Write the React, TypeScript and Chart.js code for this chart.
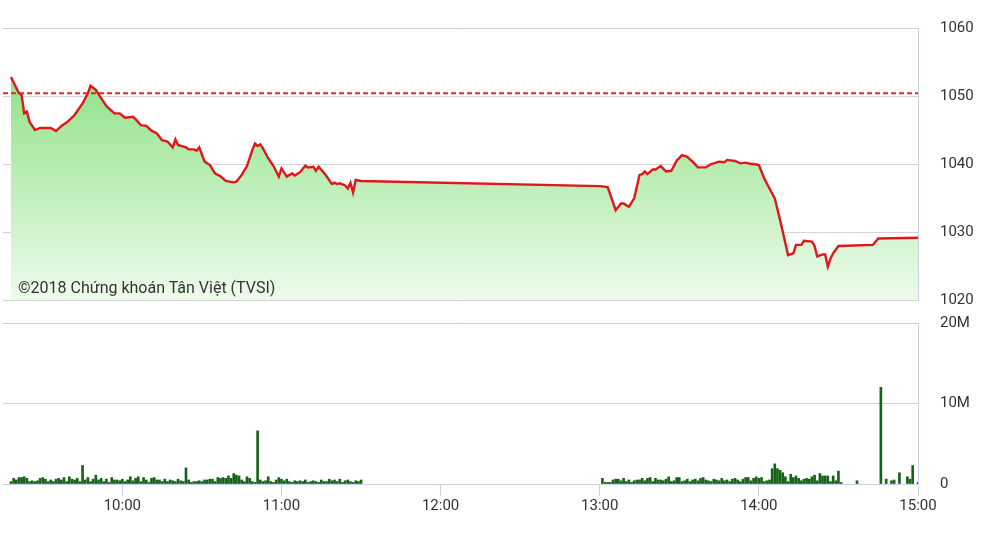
import React, { useEffect, useRef } from "react";
import { Chart, registerables } from "chart.js";

Chart.register(...registerables);

// ---- Data ----
const priceTimes = [
  "09:18", "09:21", "09:22", "09:23", "09:24", "09:25", "09:27", "09:29", "09:33", "09:35",
  "09:37", "09:39", "09:42", "09:45", "09:47", "09:48", "09:50", "09:52", "09:54", "09:57",
  "09:59", "10:01", "10:04", "10:05", "10:07", "10:09", "10:11", "10:13", "10:15", "10:17",
  "10:19", "10:20", "10:21", "10:24", "10:25", "10:27", "10:28", "10:29", "10:31", "10:33",
  "10:35", "10:37", "10:39", "10:42", "10:43", "10:45", "10:47", "10:49", "10:50", "10:51",
  "10:52", "10:53", "10:55", "10:57", "10:58", "10:59", "11:00", "11:02", "11:04", "11:05",
  "11:07", "11:09", "11:10", "11:12", "11:13", "11:14", "11:16", "11:17", "11:19", "11:20",
  "11:21", "11:22", "11:24", "11:25", "11:26", "11:27", "11:28", "11:30",
  "13:00", "13:03", "13:06", "13:08", "13:09", "13:11", "13:13", "13:15", "13:16", "13:17",
  "13:18", "13:20", "13:21", "13:23", "13:25", "13:27", "13:29", "13:31", "13:33", "13:35",
  "13:37", "13:40", "13:42", "13:43", "13:45", "13:47", "13:48", "13:51", "13:53", "13:55",
  "13:57", "13:58", "14:00", "14:02", "14:04", "14:06", "14:08", "14:10", "14:11", "14:13",
  "14:14", "14:16", "14:17", "14:20", "14:21", "14:22", "14:24", "14:25", "14:26", "14:27",
  "14:28", "14:30", "14:43", "14:45", "15:00",
];
const priceValues = [
  1052.8, 1050.4, 1050.15, 1047.45, 1047.7, 1046.2, 1045.0, 1045.3, 1045.3, 1044.85,
  1045.6, 1046.1, 1047.2, 1048.9, 1050.4, 1051.5, 1050.9, 1049.7, 1048.5, 1047.45,
  1047.45, 1046.8, 1046.95, 1046.6, 1045.7, 1045.6, 1044.9, 1044.5, 1043.5, 1043.3,
  1042.45, 1043.6, 1042.8, 1042.45, 1042.15, 1042.15, 1041.95, 1042.45, 1040.35, 1039.85,
  1038.6, 1038.2, 1037.5, 1037.3, 1037.4, 1038.4, 1039.7, 1042.05, 1043.0, 1042.65,
  1042.9, 1042.3, 1040.85, 1039.7, 1038.9, 1038.15, 1039.35, 1038.15, 1038.6, 1038.3,
  1038.8, 1039.75, 1039.5, 1039.6, 1039.0, 1039.6, 1038.7, 1038.2, 1037.05, 1037.25,
  1037.05, 1037.15, 1036.85, 1036.4, 1037.25, 1035.8, 1037.65, 1037.5,
  1036.75, 1036.6, 1033.2, 1034.2, 1034.2, 1033.7, 1034.95, 1038.4, 1038.5, 1038.9,
  1038.5, 1039.2, 1039.2, 1039.7, 1038.9, 1039.0, 1040.5, 1041.3, 1041.05, 1040.35,
  1039.5, 1039.5, 1040.0, 1040.1, 1040.35, 1040.25, 1040.6, 1040.45, 1040.1, 1040.2,
  1040.0, 1040.0, 1039.85, 1037.9, 1036.4, 1034.95, 1031.75, 1028.35, 1026.6, 1026.85,
  1028.1, 1028.1, 1028.7, 1028.6, 1027.95, 1026.4, 1026.7, 1026.7, 1024.9, 1026.1,
  1026.85, 1027.95, 1028.1, 1029.05, 1029.15,
];
const referenceLevel = 1050.4;

// Volume per minute (millions of shares)
const morningVolumeStart = "09:18";
const morningVolume = [
  0.3, 0.7, 0.5, 0.8, 0.8, 0.9, 0.7, 0.3, 0.4, 0.3,
  0.4, 0.7, 0.8, 0.6, 0.3, 0.5, 0.3, 0.6, 0.7, 0.5,
  0.8, 0.3, 0.9, 0.6, 0.5, 0.7, 0.3, 2.3, 0.5, 0.8,
  0.3, 0.6, 1.1, 0.5, 0.7, 0.3, 0.6, 0.2, 0.8, 0.5,
  0.5, 0.4, 0.6, 0.3, 0.5, 0.9, 0.4, 0.7, 0.9, 0.3,
  0.8, 0.5, 0.2, 0.7, 0.8, 0.5, 0.5, 0.3, 0.6, 0.3,
  0.5, 0.4, 0.3, 0.6, 0.4, 0.3, 2.0, 0.5, 0.2, 0.3,
  0.3, 0.4, 0.3, 0.5, 0.5, 0.6, 0.6, 0.3, 0.8, 0.7,
  0.8, 0.7, 1.0, 0.7, 1.3, 1.1, 1.0, 0.5, 0.3, 0.9,
  0.7, 0.3, 0.2, 6.6, 0.5, 0.3, 0.4, 0.9, 0.3, 0.2,
  0.5, 0.8, 0.6, 0.4, 0.6, 0.3, 0.2, 0.4, 0.3, 0.4,
  0.3, 0.5, 0.2, 0.3, 0.4, 0.3, 0.2, 0.5, 0.3, 0.3,
  0.6, 0.4, 0.5, 0.3, 0.6, 0.2, 0.4, 0.5, 0.3, 0.2,
  0.4, 0.3, 0.5,
];
const afternoonVolumeStart = "13:00";
const afternoonVolume = [
  0, 0.7, 0.2, 0.2, 0.2, 0.5, 0.6, 0.6, 0.4, 0.7,
  0.3, 0.5, 0.2, 0.4, 0.5, 0.5, 0.7, 0.4, 0.7, 0.8,
  0.3, 0.7, 0.5, 0.5, 0.4, 0.6, 0.9, 0.3, 0.4, 0.8,
  0.8, 0.3, 0.4, 0.6, 0.3, 0.5, 0.6, 0.4, 0.7, 0.8,
  0.5, 0.4, 0.3, 0.6, 0.5, 0.4, 0.7, 0.4, 0.5, 0.3,
  0.6, 0.7, 0.5, 0.3, 0.6, 0.8, 0.8, 0.4, 0.7, 0.9,
  0.7, 0.8, 0.3, 0.4, 0.5, 1.9, 2.5, 1.9, 1.7, 1.4,
  0.9, 0.3, 1.2, 0.8, 1.0, 0.7, 0.4, 0.6, 0.7, 0.6,
  0.9, 1.1, 0.4, 1.3, 1.0, 1.0, 1.0, 0.3, 1.0, 0.4,
  1.6, 0.2, 0, 0, 0, 0, 0, 0.4, 0, 0,
  0, 0, 0, 0, 0, 0, 12.0, 0, 0.6, 0,
  0.4, 0.5, 0, 1.4, 0, 0, 0.9, 0.6, 2.3, 0,
  0.2,
];

const axisTimes = ["10:00", "11:00", "12:00", "13:00", "14:00", "15:00"];
const sessionStart = "09:15";
const sessionEnd = "15:00";
const priceTicks = [1020, 1030, 1040, 1050, 1060];
const volumeTicks = [0, 10, 20];
const watermark = "©2018 Chứng khoán Tân Việt (TVSI)";

// ---- helpers ----
const toMin = (s: string) => {
  const [h, m] = s.split(":").map(Number);
  return h * 60 + m;
};
const fmtMin = (v: number) => {
  const h = Math.floor(v / 60);
  const m = Math.round(v - h * 60);
  return `${h < 10 ? "0" + h : h}:${m < 10 ? "0" + m : m}`;
};

const FONT = { family: "Roboto, 'Liberation Sans', Arial, sans-serif", size: 15 };
const TEXT = "#333333";
const GRID = "#d4d4d4";
const FRAME = "#c9d2e3";
const CLEAR = "rgba(0,0,0,0)";

export default function App() {
  const topRef = useRef<HTMLCanvasElement | null>(null);
  const botRef = useRef<HTMLCanvasElement | null>(null);

  useEffect(() => {
    const xMin = toMin(sessionStart);
    const xMax = toMin(sessionEnd);
    const hourTicks = axisTimes.map((t) => toMin(t));

    const pricePts = priceTimes.map((t, i) => ({ x: toMin(t), y: priceValues[i] }));
    const volPts: { x: number; y: number }[] = [];
    morningVolume.forEach((v, i) => {
      if (v > 0) volPts.push({ x: toMin(morningVolumeStart) + i, y: v });
    });
    afternoonVolume.forEach((v, i) => {
      if (v > 0) volPts.push({ x: toMin(afternoonVolumeStart) + i, y: v });
    });

    const top = new Chart(topRef.current as HTMLCanvasElement, {
      type: "line",
      data: {
        datasets: [
          {
            data: [
              { x: xMin, y: referenceLevel },
              { x: xMax, y: referenceLevel },
            ],
            borderColor: "#e8262c",
            borderWidth: 2,
            borderDash: [5, 3],
            pointRadius: 0,
            fill: false,
            order: 0,
          },
          {
            data: pricePts,
            borderColor: "#e0161c",
            borderWidth: 2.4,
            pointRadius: 0,
            tension: 0,
            fill: "start",
            order: 1,
            backgroundColor: (ctx: any) => {
              const ca = ctx.chart.chartArea;
              if (!ca) return "rgba(150,225,140,0.6)";
              const g = ctx.chart.ctx.createLinearGradient(0, ca.top, 0, ca.bottom);
              g.addColorStop(0, "rgb(124,221,114)");
              g.addColorStop(1, "rgb(238,251,236)");
              return g;
            },
          },
        ],
      },
      options: {
        animation: false,
        responsive: true,
        maintainAspectRatio: false,
        layout: { padding: { left: 3, right: 0, top: 28, bottom: 10 } },
        plugins: { legend: { display: false }, tooltip: { enabled: false } },
        scales: {
          x: { type: "linear", min: xMin, max: xMax, display: false },
          y: {
            position: "right",
            min: priceTicks[0],
            max: priceTicks[priceTicks.length - 1],
            afterBuildTicks: (s: any) => {
              s.ticks = priceTicks.map((v) => ({ value: v }));
            },
            afterFit: (s: any) => {
              s.width = 68;
            },
            ticks: {
              padding: 0,
              color: TEXT,
              font: FONT,
              callback: (v: any) => String(v),
            },
            grid: {
              drawTicks: true,
              tickLength: 22,
              tickColor: CLEAR,
              color: (c: any) =>
                c.tick && c.tick.value === priceTicks[priceTicks.length - 1] ? FRAME : GRID,
            },
            border: { color: FRAME },
          },
        },
      },
    } as any);

    const bot = new Chart(botRef.current as HTMLCanvasElement, {
      type: "bar",
      data: {
        datasets: [
          {
            data: volPts,
            backgroundColor: "#176317",
            barThickness: 2,
            borderWidth: 0,
          },
        ],
      },
      options: {
        animation: false,
        responsive: true,
        maintainAspectRatio: false,
        layout: { padding: { left: 3, right: 0, top: 13, bottom: 34 } },
        plugins: { legend: { display: false }, tooltip: { enabled: false } },
        scales: {
          x: {
            type: "linear",
            min: xMin,
            max: xMax,
            offset: false,
            afterBuildTicks: (s: any) => {
              s.ticks = hourTicks.map((v) => ({ value: v }));
            },
            afterFit: (s: any) => {
              s.height = 36;
            },
            ticks: {
              autoSkip: false,
              maxRotation: 0,
              padding: 1,
              color: TEXT,
              font: FONT,
              callback: (v: any) => fmtMin(Number(v)),
            },
            grid: {
              offset: false,
              drawOnChartArea: false,
              drawTicks: true,
              tickLength: 12,
              color: FRAME,
            },
            border: { color: FRAME },
          },
          y: {
            position: "right",
            min: volumeTicks[0],
            max: volumeTicks[volumeTicks.length - 1],
            afterBuildTicks: (s: any) => {
              s.ticks = volumeTicks.map((v) => ({ value: v }));
            },
            afterFit: (s: any) => {
              s.width = 68;
            },
            ticks: {
              padding: 0,
              color: TEXT,
              font: FONT,
              callback: (v: any) => (Number(v) === 0 ? "0" : `${v}M`),
            },
            grid: {
              drawTicks: true,
              tickLength: 22,
              tickColor: CLEAR,
              color: (c: any) =>
                c.tick &&
                (c.tick.value === volumeTicks[volumeTicks.length - 1] || c.tick.value === 0)
                  ? FRAME
                  : GRID,
            },
            border: { color: FRAME },
          },
        },
      },
    } as any);

    return () => {
      top.destroy();
      bot.destroy();
    };
  }, []);

  return (
    <div
      style={{
        position: "absolute",
        left: 0,
        top: 0,
        width: 986,
        height: 554,
        background: "#ffffff",
        overflow: "hidden",
      }}
    >
      <div style={{ position: "absolute", left: 0, top: 0, width: 986, height: 310 }}>
        <canvas ref={topRef} />
      </div>
      <div style={{ position: "absolute", left: 0, top: 310, width: 986, height: 244 }}>
        <canvas ref={botRef} />
      </div>
      <div
        style={{
          position: "absolute",
          left: 18,
          top: 277,
          fontFamily: "Roboto, 'Liberation Sans', Arial, sans-serif",
          fontSize: 16,
          lineHeight: "22px",
          color: TEXT,
          whiteSpace: "nowrap",
          pointerEvents: "none",
        }}
      >
        {watermark}
      </div>
    </div>
  );
}
